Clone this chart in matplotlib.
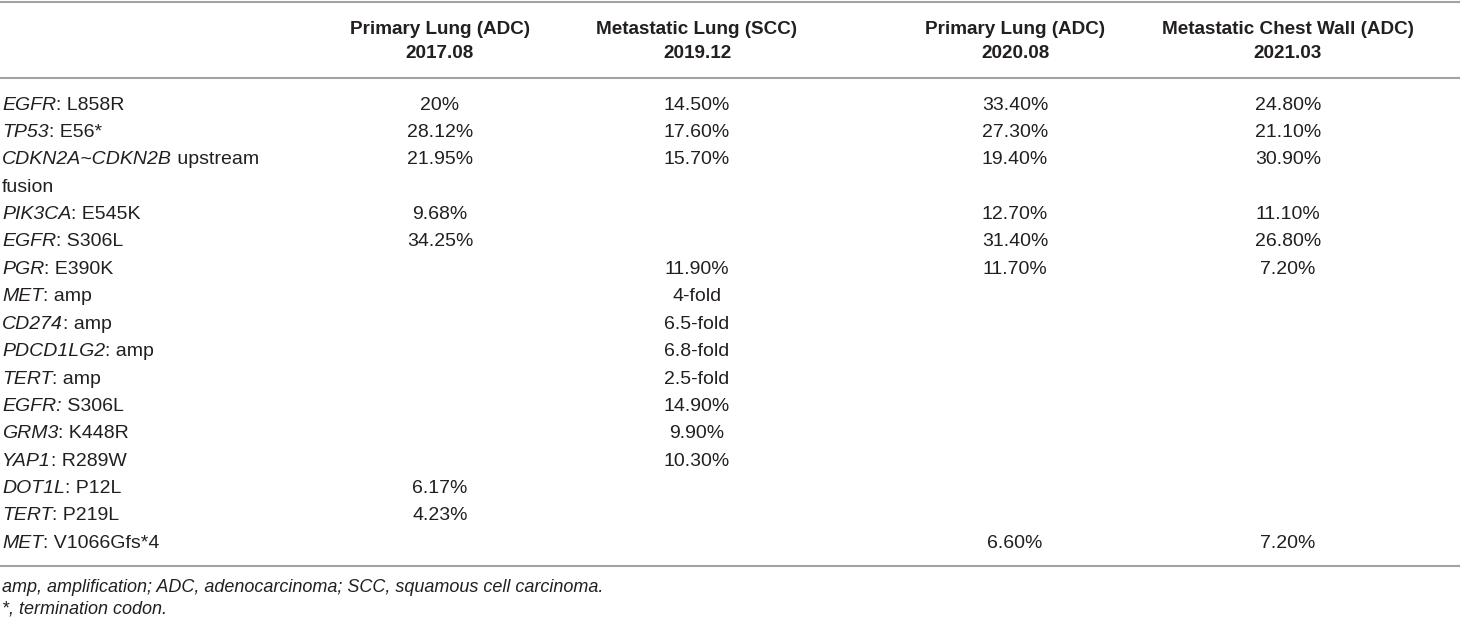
import matplotlib.pyplot as plt

# table content
col_titles = ["Primary Lung (ADC)", "Metastatic Lung (SCC)", "Primary Lung (ADC)", "Metastatic Chest Wall (ADC)"]
col_dates = ["2017.08", "2019.12", "2020.08", "2021.03"]

genes = ["EGFR", "TP53", "CDKN2A~CDKN2B", "PIK3CA", "EGFR", "PGR", "MET", "CD274",
         "PDCD1LG2", "TERT", "EGFR:", "GRM3", "YAP1", "DOT1L", "TERT", "MET"]
changes = [": L858R", ": E56*", " upstream", ": E545K", ": S306L", ": E390K", ": amp", ": amp",
           ": amp", ": amp", " S306L", ": K448R", ": R289W", ": P12L", ": P219L", ": V1066Gfs*4"]
wrapped = {2: "fusion"}

primary_2017 = ["20%", "28.12%", "21.95%", "9.68%", "34.25%", "", "", "", "", "", "", "", "", "6.17%", "4.23%", ""]
metastatic_2019 = ["14.50%", "17.60%", "15.70%", "", "", "11.90%", "4-fold", "6.5-fold", "6.8-fold",
                   "2.5-fold", "14.90%", "9.90%", "10.30%", "", "", ""]
primary_2020 = ["33.40%", "27.30%", "19.40%", "12.70%", "31.40%", "11.70%", "", "", "", "", "", "", "", "", "", "6.60%"]
chest_2021 = ["24.80%", "21.10%", "30.90%", "11.10%", "26.80%", "7.20%", "", "", "", "", "", "", "", "", "", "7.20%"]

footnotes = ["amp, amplification; ADC, adenocarcinoma; SCC, squamous cell carcinoma.",
             "*, termination codon."]


def main():
    plt.rcParams['font.family'] = ['Liberation Sans', 'DejaVu Sans']
    txt = '#231f20'
    rule = '#a3a3a3'
    fs = 14
    fs_head = 13.6

    fig = plt.figure(figsize=(14.6, 6.22), dpi=100)
    ax = fig.add_axes([0, 0, 1, 1])
    ax.set_xlim(0, 1460)
    ax.set_ylim(622, 0)
    ax.axis('off')

    col_x = [440, 697, 1015, 1288]
    columns = [primary_2017, metastatic_2019, primary_2020, chest_2021]

    # rules
    for y in (2, 78, 566):
        ax.plot([0, 1460], [y, y], color=rule, lw=1.5, solid_capstyle='butt')

    # header
    for x, title, date in zip(col_x, col_titles, col_dates):
        ax.text(x, 29, title, ha='center', va='center', fontsize=fs_head, fontweight='bold', color=txt)
        ax.text(x, 53, date, ha='center', va='center', fontsize=fs_head, fontweight='bold', color=txt)

    # body
    y0, step = 105, 27.4
    line = 0
    for i in range(len(genes)):
        y = y0 + line * step
        g = ax.text(2, y, genes[i], ha='left', va='center', fontsize=fs, style='italic', color=txt)
        ax.annotate(changes[i], xy=(1, 0), xycoords=g, ha='left', va='bottom', fontsize=fs, color=txt)
        for x, col in zip(col_x, columns):
            if col[i]:
                ax.text(x, y, col[i], ha='center', va='center', fontsize=fs, color=txt)
        line += 1
        if i in wrapped:
            ax.text(2, y0 + line * step, wrapped[i], ha='left', va='center', fontsize=fs, color=txt)
            line += 1

    # footnotes
    ax.text(2, 587, footnotes[0], ha='left', va='center', fontsize=13, style='italic', color=txt)
    ax.text(2, 609, footnotes[1], ha='left', va='center', fontsize=13, style='italic', color=txt)

    fig.savefig('out.png', dpi=100)


if __name__ == '__main__':
    main()
